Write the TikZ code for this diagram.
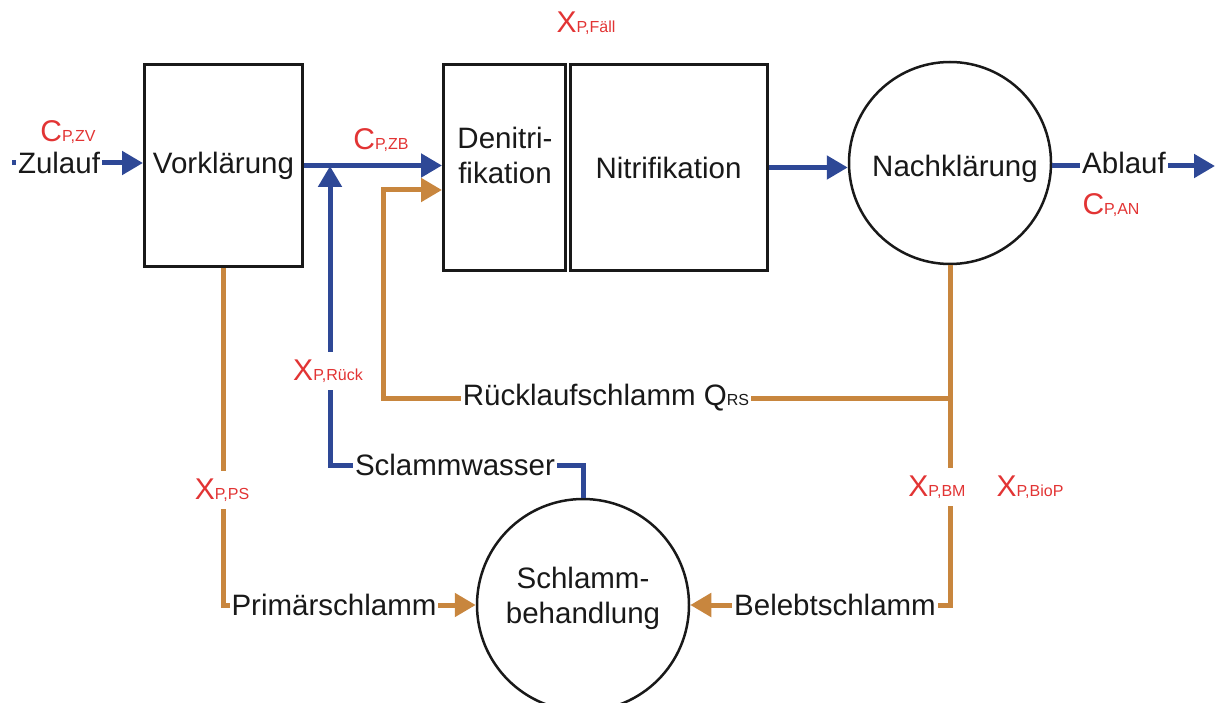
\documentclass[tikz,border=0pt]{standalone}
\usepackage{fontspec}
\setmainfont{Liberation Sans}
\usetikzlibrary{arrows.meta}
\definecolor{flowblue}{RGB}{46,72,150}
\definecolor{sludge}{RGB}{200,134,62}
\definecolor{concred}{RGB}{226,52,52}
% concentration symbol: large letter followed by small index on the same baseline
\newcommand\conc[2]{{\fontsize{30}{30}\selectfont #1}{\fontsize{16}{16}\selectfont #2}}

\begin{document}
\begin{tikzpicture}[x=1pt,y=-1pt,
  every node/.style={font=\fontsize{29.5}{35}\selectfont, text=black!90},
  basin/.style={draw=black!90, line width=3pt, rectangle, inner sep=0pt},
  tank/.style={draw=black!90, line width=2.5pt, circle, inner sep=0pt},
  water/.style={draw=flowblue, line width=5pt},
  sludgeline/.style={draw=sludge, line width=5pt},
  tip/.style={-{Triangle[length=21pt,width=23pt]}},
  onpipe/.style={fill=white, inner xsep=2pt, inner ysep=1pt},
  conclbl/.style={text=concred, inner sep=0pt},
  concpipe/.style={conclbl, fill=white, inner xsep=2pt, inner ysep=8pt}
]
\useasboundingbox (0,0) rectangle (1215,703);

% treatment units
\node[basin, minimum width=158pt, minimum height=202pt] (vk) at (223.5,165.5) {Vorklärung};
\node[basin, minimum width=122pt, minimum height=206pt] (dn) at (504.5,167.5) {};
\node[align=center] (dntext) at (505,155) {Denitri-\\fikation};
\node[basin, minimum width=197pt, minimum height=206pt] (nt) at (668.5,167.5) {Nitrifikation};
\node[tank, minimum size=202pt] (nk) at (950,163) {};
\node[anchor=base] (nktext) at (955,177) {Nachklärung};
\node[tank, minimum size=212pt] (sb) at (583,605) {};
\node[align=center] (sbtext) at (583,598) {Schlamm-\\behandlung};

% junction points of the pipework
\coordinate (zin) at (12,163);
\coordinate (aus) at (1215,166);
\coordinate (merge) at (330,166);
\coordinate (swc) at (330,465);
\coordinate (rsj) at (950,398);
\coordinate (rsc) at (383,398);
\path (dn.west) ++(0,22.5) coordinate (dnin);

% water path
\draw[water, tip] (zin) -- (zin -| vk.west);
\draw[water, tip] (vk.east) -- (vk.east -| dn.west);
\draw[water, tip] (nt.east) -- (nt.east -| nk.west);
\draw[water, tip] (nk.east |- aus) -- (aus);
\draw[water, tip] (sb.north) |- (swc) -- (merge);

% sludge paths
\draw[sludgeline, tip] (vk.south) |- (sb.west);
\draw[sludgeline, tip] (nk.south) |- (sb.east);
\draw[sludgeline, tip] (rsj) -- (rsc) |- (dnin);

% labels sitting on the pipes
\node[onpipe] (zulauf) at (59,163) {Zulauf};
\node[onpipe] (ablauf) at (1124,163) {Ablauf};
\node[onpipe] (rslabel) at (606,398) {Rücklaufschlamm Q{\fontsize{16}{16}\selectfont RS}};
\node[onpipe] (swlabel) at (455,465) {Sclammwasser};
\node[onpipe] (pslabel) at (334,605) {Primärschlamm};
\node[onpipe] (bslabel) at (835,605) {Belebtschlamm};

% phosphorus concentrations and loads
\node[conclbl] (czv) at (68,132) {\conc{C}{P,ZV}};
\node[conclbl] (czb) at (381,140) {\conc{C}{P,ZB}};
\node[conclbl] (xfaell) at (586,23) {\conc{X}{P,Fäll}};
\node[conclbl] (can) at (1111,205) {\conc{C}{P,AN}};
\node[concpipe] (xrueck) at (328,371) {\conc{X}{P,Rück}};
\node[concpipe] (xps) at (222,490) {\conc{X}{P,PS}};
\node[concpipe] (xbm) at (937,487) {\conc{X}{P,BM}};
\node[conclbl] (xbiop) at (1030,487) {\conc{X}{P,BioP}};
\end{tikzpicture}
\end{document}
